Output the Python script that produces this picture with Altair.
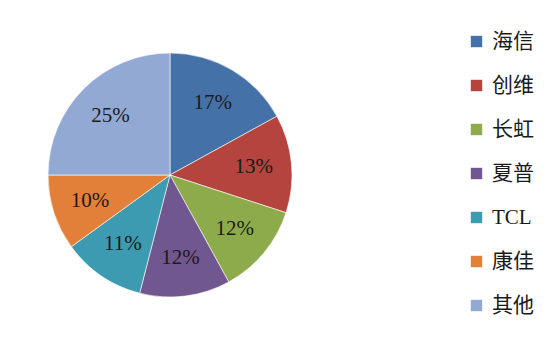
import altair as alt
import pandas as pd

brands = ["海信", "创维", "长虹", "夏普", "TCL", "康佳", "其他"]
shares = [17, 13, 12, 12, 11, 10, 25]
labels = ["17%", "13%", "12%", "12%", "11%", "10%", "25%"]
colors = ["#4472A8", "#B5443F", "#8EAB4B", "#71578F", "#3C9BB0", "#E2803A", "#92A9D4"]

df = pd.DataFrame({"brand": brands, "share": shares, "label": labels, "idx": list(range(len(brands)))})

cx, cy = 170, 175
font = "Liberation Serif, Times New Roman, Noto Sans CJK SC, serif"

base = alt.Chart(df).encode(
    theta=alt.Theta("share:Q", stack=True),
    order=alt.Order("idx:Q"),
    x=alt.value(cx),
    y=alt.value(cy),
)

arcs = base.mark_arc(outerRadius=122, stroke="white", strokeWidth=0.6).encode(
    color=alt.Color(
        "brand:N",
        scale=alt.Scale(domain=brands, range=colors),
        sort=brands,
        legend=alt.Legend(
            title=None,
            orient="none",
            legendX=466,
            legendY=31,
            symbolType="square",
            symbolSize=130,
            symbolStrokeWidth=0,
            labelFont=font,
            labelFontSize=21,
            labelColor="#1a1a1a",
            labelOffset=5,
            rowPadding=22,
        ),
    )
)

texts = base.mark_text(radius=84, font=font, fontSize=21, color="#1a1a1a").encode(
    text="label:N"
)

chart = (arcs + texts).properties(
    width=554, height=346, autosize=alt.AutoSizeParams(type="none"), padding=0
).configure(background="white").configure_view(stroke=None)

chart.save("out.html", embed_options={"renderer": "svg", "actions": False})
